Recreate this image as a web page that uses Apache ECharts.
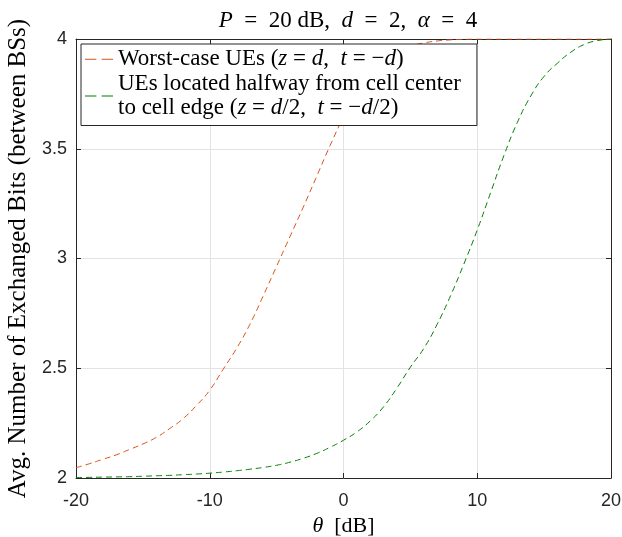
<!DOCTYPE html>
<html><head><meta charset="utf-8">
<script src="https://cdn.jsdelivr.net/npm/echarts@6/dist/echarts.min.js"></script>
<style>html,body{margin:0;padding:0;background:#fff}#c{width:622px;height:537px}</style>
</head><body><div id="c"></div>
<script>
const theta = [-20,-19,-18,-17,-16,-15,-14,-13,-12,-11,-10,-9,-8,-7,-6,-5,-4,-3,-2,-1,0,1,2,3,4,5,6,7,8,9,10,11,12,13,14,15,16,17,18,19,20];
const worstCase = [2.047,2.065,2.085,2.105,2.13,2.155,2.185,2.225,2.27,2.33,2.40,2.495,2.59,2.70,2.83,2.965,3.10,3.235,3.375,3.515,3.645,3.76,3.85,3.91,3.945,3.968,3.982,3.991,3.996,3.999,4,4,4,4,4,4,4,4,4,4,4];
const halfway = [2.002,2.003,2.004,2.005,2.006,2.008,2.010,2.012,2.015,2.018,2.022,2.027,2.033,2.040,2.048,2.058,2.072,2.090,2.112,2.140,2.172,2.21,2.26,2.325,2.41,2.505,2.59,2.70,2.83,2.975,3.13,3.30,3.47,3.62,3.74,3.83,3.89,3.94,3.975,3.993,4.0];
const xTicks = [-20,-10,0,10,20];
const yTicks = [2,2.5,3,3.5,4];
const sp = '\u2005';
const sq = '\u2002';
const names = [
  'Worst-case UEs ({i|z}' + sp + '=' + sp + '{i|d},' + sp + ' {i|t}' + sp + '=' + sp + '−{i|d})',
  'UEs located halfway from cell center\nto cell edge ({i|z}' + sp + '=' + sp + '{i|d}/2,' + sp + ' {i|t}' + sp + '=' + sp + '−{i|d}/2)'
];
const titleText = '{i|P}' + sq + '=' + sq + '20 dB,' + sq + '{i|d}' + sq + '=' + sq + '2,' + sq + '{i|α}' + sq + '=' + sq + '4';

const serif = '"Liberation Serif", "DejaVu Serif", serif';
const sans = '"Liberation Sans", Arial, sans-serif';
const axisCol = '#262626';
const pairs = (ys) => theta.map((x, i) => [x, ys[i]]);
const dashIcon = 'path://M0,0h11v1h-11zM16,0h11v1h-11z';

const chart = echarts.init(document.getElementById('c'), null, {renderer: 'canvas'});
const baseAxis = {
  type: 'value',
  axisLine: {show: true, onZero: false, lineStyle: {color: axisCol, width: 1}},
  axisTick: {show: true, inside: true, length: 5, lineStyle: {color: axisCol}},
  splitLine: {show: true, lineStyle: {color: '#e3e3e3', width: 1}}
};
chart.setOption({
  animation: false,
  title: {
    text: titleText,
    left: 343, top: 4, textAlign: 'center',
    textStyle: {fontFamily: serif, fontSize: 23, fontWeight: 'normal', color: '#000',
      rich: {i: {fontFamily: serif, fontSize: 23, fontStyle: 'italic', color: '#000'}}}
  },
  grid: {left: 76, right: 11, top: 39, bottom: 59, containLabel: false, outerBoundsMode: 'none'},
  legend: {
    data: [{name: 'a', icon: dashIcon}, {name: 'b', icon: dashIcon}],
    left: 81, top: 44, orient: 'vertical',
    backgroundColor: '#fff', borderColor: axisCol, borderWidth: 1, borderRadius: 0,
    padding: [3, 16, 5, 4], itemGap: 0, itemWidth: 28, itemHeight: 1.3,
    itemStyle: {borderWidth: 0},
    formatter: (n) => n === 'a' ? names[0] : names[1],
    textStyle: {fontFamily: serif, fontSize: 23, color: '#000', lineHeight: 24.5,
      rich: {i: {fontFamily: serif, fontSize: 23, fontStyle: 'italic', color: '#000', lineHeight: 24.5}}}
  },
  xAxis: [
    Object.assign({}, baseAxis, {
      min: -20, max: 20, interval: 10, position: 'bottom',
      axisLabel: {fontFamily: sans, fontSize: 18, color: axisCol, margin: 14,
        formatter: (v) => xTicks.includes(v) ? String(v) : ''},
      name: '{i|θ}  [dB]', nameLocation: 'middle', nameGap: 35,
      nameTextStyle: {fontFamily: serif, fontSize: 22, color: '#000',
        rich: {i: {fontFamily: serif, fontSize: 22, fontStyle: 'italic', color: '#000'}}}
    }),
    Object.assign({}, baseAxis, {
      min: -20, max: 20, interval: 10, position: 'top',
      axisLabel: {show: false}, splitLine: {show: false}
    })
  ],
  yAxis: [
    Object.assign({}, baseAxis, {
      min: 2, max: 4, interval: 0.5, position: 'left',
      axisLabel: {fontFamily: sans, fontSize: 18, color: axisCol, margin: 9,
        formatter: (v) => yTicks.includes(v) ? String(v) : ''},
      name: 'Avg. Number of Exchanged Bits (between BSs)', nameLocation: 'middle', nameGap: 40,
      nameTextStyle: {fontFamily: serif, fontSize: 25, color: '#000'}
    }),
    Object.assign({}, baseAxis, {
      min: 2, max: 4, interval: 0.5, position: 'right',
      axisLabel: {show: false}, splitLine: {show: false}
    })
  ],
  series: [
    {name: 'a', type: 'line', data: pairs(worstCase), symbol: 'none', smooth: true,
      color: '#D95319', lineStyle: {color: '#D95319', width: 1, type: [6, 4]}, z: 3},
    {name: 'b', type: 'line', data: pairs(halfway), symbol: 'none', smooth: true,
      color: '#008000', lineStyle: {color: '#008000', width: 1, type: [6, 4]}, z: 3}
  ]
});
</script></body></html>
